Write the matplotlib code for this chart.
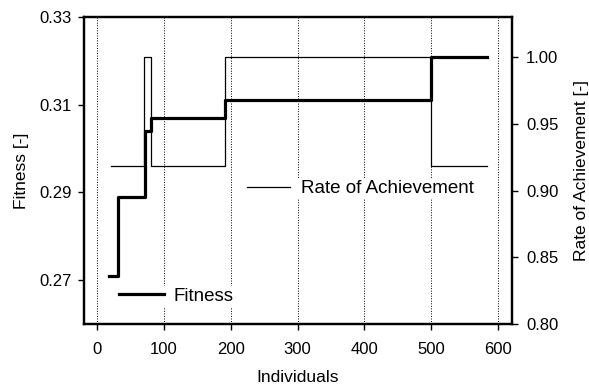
import matplotlib
matplotlib.use("Agg")
import matplotlib.pyplot as plt
from matplotlib.lines import Line2D

plt.rcParams['font.family'] = ['Liberation Sans', 'DejaVu Sans']

# Fitness (left axis), step changes
fit_x = [18, 31, 72, 80, 191, 500, 584]
fit_y = [0.271, 0.2889, 0.3039, 0.3069, 0.3111, 0.3208, 0.3208]

# Rate of Achievement (right axis), step changes
rate_x = [20, 70, 80, 191, 500, 584]
rate_y = [0.918, 1.00, 0.918, 1.00, 0.918, 0.918]

x_ticks = [0, 100, 200, 300, 400, 500, 600]
left_ticks = [0.27, 0.29, 0.31, 0.33]
right_ticks = [0.80, 0.85, 0.90, 0.95, 1.00]

fig = plt.figure(figsize=(5.89, 3.85), dpi=100)
ax = fig.add_axes([84/589, 61/385, 428/589, 307/385])
ax2 = ax.twinx()

ax.step(fit_x, fit_y, where='post', color='black', lw=2.3, zorder=3)
ax2.step(rate_x, rate_y, where='post', color='black', lw=0.9)

ax.set_xlim(-20, 621)
ax.set_ylim(0.26, 0.33)
ax2.set_ylim(0.80, 1.03)

ax.set_xticks(x_ticks)
ax.set_yticks(left_ticks)
ax.set_yticklabels([f"{v:.2f}" for v in left_ticks])
ax2.set_yticks(right_ticks)
ax2.set_yticklabels([f"{v:.2f}" for v in right_ticks])

ax.xaxis.grid(True, linestyle=(0, (1, 1.6)), color='black', lw=0.7)
ax.set_axisbelow(True)

for a in (ax, ax2):
    for s in a.spines.values():
        s.set_linewidth(1.6)
ax.tick_params(axis='both', direction='out', length=4, width=1, labelsize=12)
ax.tick_params(axis='y', pad=5)
ax.tick_params(axis='x', pad=9)
ax2.tick_params(axis='y', direction='out', length=4, width=1, labelsize=12, pad=6)

ax.set_xlabel("Individuals", fontsize=12.5, labelpad=9)
ax.set_ylabel("Fitness [-]", fontsize=12.5, labelpad=7)
ax2.set_ylabel("Rate of Achievement [-]", fontsize=12.5, labelpad=11)

h_fit = Line2D([], [], color='black', lw=2.3)
h_rate = Line2D([], [], color='black', lw=0.9)

leg1 = ax.legend([h_fit], ["Fitness"], loc='center left',
                 bbox_to_anchor=(0.077, 0.091), fontsize=13.5, frameon=True,
                 borderpad=0.1, borderaxespad=0, handlelength=2.4,
                 handletextpad=0.5, fancybox=False)
leg1.get_frame().set_edgecolor('none')
leg1.get_frame().set_facecolor('white')
leg1.get_frame().set_alpha(1)

leg2 = ax2.legend([h_rate], ["Rate of Achievement"], loc='center left',
                  bbox_to_anchor=(0.376, 0.44), fontsize=13.5, frameon=True,
                  borderpad=0.1, borderaxespad=0, handlelength=2.3,
                  handletextpad=0.6, fancybox=False)
leg2.get_frame().set_edgecolor('none')
leg2.get_frame().set_facecolor('white')
leg2.get_frame().set_alpha(1)

fig.savefig("out.png", dpi=100)
